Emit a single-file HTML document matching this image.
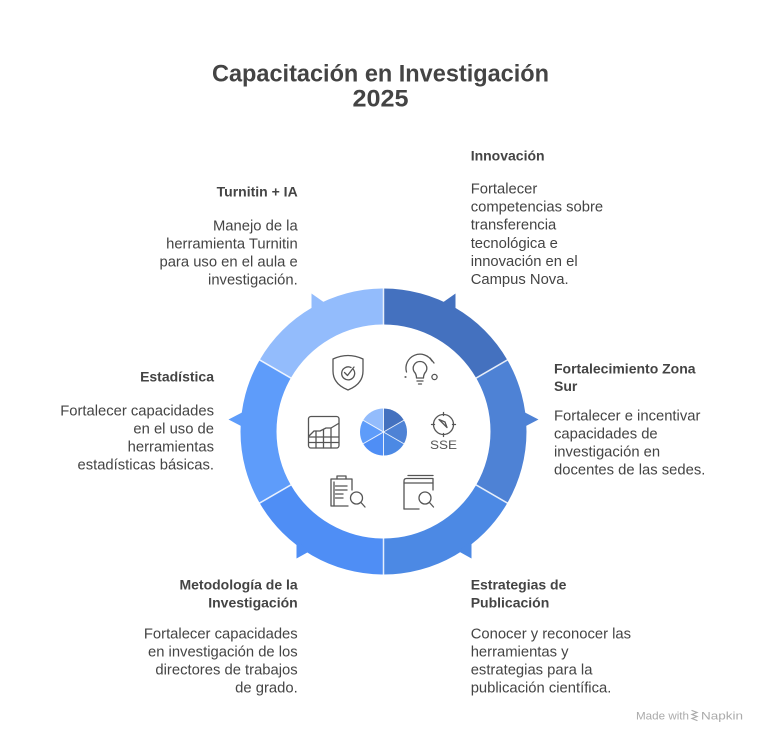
<!DOCTYPE html>
<html>
<head>
<meta charset="utf-8">
<style>
  html,body{margin:0;padding:0;background:#fff;}
  body{width:768px;height:744px;overflow:hidden;}
  svg{display:block;}
  .t{font-family:"Liberation Sans",Arial,sans-serif;}
  .ttl{font-size:24px;font-weight:bold;fill:#444;}
  .h{font-size:14px;font-weight:bold;fill:#444;}
  .b{font-size:14.8px;fill:#444;}
  .ft{font-size:11px;fill:#aaa;}
  .ic{fill:none;stroke:#555;stroke-width:1.3;stroke-linecap:round;stroke-linejoin:round;}
</style>
</head>
<body>
<svg width="768" height="744" viewBox="0 0 768 744" xmlns="http://www.w3.org/2000/svg">
  <!-- Title -->
  <text class="t ttl" x="380.5" y="81.5" text-anchor="middle" textLength="337" lengthAdjust="spacingAndGlyphs">Capacitación en Investigación</text>
  <text class="t ttl" x="380.5" y="106.5" text-anchor="middle" textLength="56" lengthAdjust="spacingAndGlyphs">2025</text>

  <!-- Ring segments -->
  <path d="M383.5,288.5 A143,143 0 0 1 507.34,360 L476.16,378 A107,107 0 0 0 383.5,324.5 Z" fill="#4471BF"/>
  <path d="M507.34,360 A143,143 0 0 1 507.34,503 L476.16,485 A107,107 0 0 0 476.16,378 Z" fill="#4E82D5"/>
  <path d="M507.34,503 A143,143 0 0 1 383.5,574.5 L383.5,538.5 A107,107 0 0 0 476.16,485 Z" fill="#4C89E4"/>
  <path d="M383.5,574.5 A143,143 0 0 1 259.66,503 L290.84,485 A107,107 0 0 0 383.5,538.5 Z" fill="#4F8EF5"/>
  <path d="M259.66,503 A143,143 0 0 1 259.66,360 L290.84,378 A107,107 0 0 0 290.84,485 Z" fill="#5E9CFA"/>
  <path d="M259.66,360 A143,143 0 0 1 383.5,288.5 L383.5,324.5 A107,107 0 0 0 290.84,378 Z" fill="#93BCFC"/>

  <!-- Barbs -->
  <polygon points="311.5,293.5 311.5,311 325,303" fill="#93BCFC"/>
  <polygon points="455.5,293.5 455.5,311 442,303" fill="#4471BF"/>
  <polygon points="228.5,419.5 243,412 243,427" fill="#5E9CFA"/>
  <polygon points="538.5,419.5 524,412 524,427" fill="#4E82D5"/>
  <polygon points="296.5,558.5 296.5,541 310,551" fill="#4F8EF5"/>
  <polygon points="471.5,558.5 471.5,541 458,551" fill="#4C89E4"/>

  <!-- Separators -->
  <g stroke="#fff" stroke-width="1.5" stroke-opacity="0.85">
    <line x1="383.5" y1="288" x2="383.5" y2="325"/>
    <line x1="507.8" y1="359.7" x2="475.7" y2="378.3"/>
    <line x1="507.8" y1="503.3" x2="475.7" y2="484.7"/>
    <line x1="383.5" y1="575" x2="383.5" y2="538"/>
    <line x1="259.2" y1="503.3" x2="291.3" y2="484.7"/>
    <line x1="259.2" y1="359.7" x2="291.3" y2="378.3"/>
  </g>

  <!-- Center pie -->
  <path d="M383.5,432 L383.5,408.5 A23.5,23.5 0 0 1 403.85,420.25 Z" fill="#4471BF"/>
  <path d="M383.5,432 L403.85,420.25 A23.5,23.5 0 0 1 403.85,443.75 Z" fill="#4E82D5"/>
  <path d="M383.5,432 L403.85,443.75 A23.5,23.5 0 0 1 383.5,455.5 Z" fill="#4C89E4"/>
  <path d="M383.5,432 L383.5,455.5 A23.5,23.5 0 0 1 363.15,443.75 Z" fill="#4F8EF5"/>
  <path d="M383.5,432 L363.15,443.75 A23.5,23.5 0 0 1 363.15,420.25 Z" fill="#5E9CFA"/>
  <path d="M383.5,432 L363.15,420.25 A23.5,23.5 0 0 1 383.5,408.5 Z" fill="#93BCFC"/>
  <g stroke="#fff" stroke-width="1" stroke-opacity="0.85">
    <line x1="383.5" y1="432" x2="383.5" y2="408"/>
    <line x1="383.5" y1="432" x2="404.3" y2="420"/>
    <line x1="383.5" y1="432" x2="404.3" y2="444"/>
    <line x1="383.5" y1="432" x2="383.5" y2="456"/>
    <line x1="383.5" y1="432" x2="362.7" y2="444"/>
    <line x1="383.5" y1="432" x2="362.7" y2="420"/>
  </g>

  <!-- Icons -->
  <!-- Shield with check -->
  <g class="ic">
    <path d="M333,359 Q348,352 363,359 L363,371 Q363,384 348,390 Q333,384 333,371 Z"/>
    <path d="M353,369 A6.5,6.5 0 1 1 351,367.5"/>
    <path d="M344.5,372.5 L347.5,375.5 L354,367"/>
  </g>
  <!-- Lightbulb with orbit -->
  <g class="ic">
    <path d="M416.5,378 Q416.5,374 414,371.5 A6.8,6.8 0 1 1 426,371.5 Q423.5,374 423.5,378 Z"/>
    <line x1="417" y1="381" x2="423" y2="381"/>
    <line x1="418.5" y1="384" x2="421.5" y2="384"/>
    <path d="M406.5,372 A14,14 0 0 1 432,361"/>
    <line x1="430" y1="358" x2="434" y2="363"/>
    <circle cx="434.5" cy="377" r="2.6"/>
    <circle cx="405.5" cy="377" r="0.4"/>
  </g>
  <!-- Chart grid -->
  <g class="ic">
    <rect x="308.5" y="416.5" width="30.5" height="31.5" rx="2.5"/>
    <path d="M309,436 L314,431 L320,431 L326,428 L331,428 L338.5,423.5"/>
    <line x1="309" y1="437" x2="338.5" y2="437"/>
    <line x1="309" y1="442.5" x2="338.5" y2="442.5"/>
    <line x1="316" y1="431" x2="316" y2="448"/>
    <line x1="323.5" y1="430" x2="323.5" y2="448"/>
    <line x1="331" y1="428" x2="331" y2="448"/>
  </g>
  <!-- Compass SSE -->
  <g class="ic">
    <circle cx="443.5" cy="424.5" r="10"/>
    <line x1="443.5" y1="412.5" x2="443.5" y2="415.5"/>
    <line x1="443.5" y1="433.5" x2="443.5" y2="436.5"/>
    <line x1="431.5" y1="424.5" x2="434.5" y2="424.5"/>
    <line x1="452.5" y1="424.5" x2="455.5" y2="424.5"/>
    <path d="M439,419.5 L447,427.5 L445,422 Z"/>
  </g>
  <text class="t" x="443.5" y="449" text-anchor="middle" font-size="12" fill="#555" textLength="27" lengthAdjust="spacingAndGlyphs">SSE</text>
  <!-- Clipboard with magnifier -->
  <g class="ic">
    <path d="M352,490 L352,479 L331,479 L331,506 L348,506"/>
    <path d="M337,479 L337,476 L346,476 L346,479"/>
    <line x1="335.5" y1="486" x2="347" y2="486"/>
    <line x1="335.5" y1="490" x2="347" y2="490"/>
    <line x1="335.5" y1="494" x2="343" y2="494"/>
    <line x1="335.5" y1="498" x2="343" y2="498"/>
    <path d="M334,506 L334,482"/>
    <circle cx="356.5" cy="498" r="6"/>
    <line x1="361" y1="502.5" x2="365" y2="507"/>
  </g>
  <!-- Book with magnifier -->
  <g class="ic">
    <line x1="408" y1="475.5" x2="433" y2="475.5"/>
    <path d="M404,509 L404,481 Q404,478.5 406.5,478.5 L433,478.5 L433,490"/>
    <line x1="404" y1="483" x2="433" y2="483"/>
    <path d="M404,509 L419,509"/>
    <circle cx="425" cy="498" r="6"/>
    <line x1="429.5" y1="502.5" x2="433.5" y2="507"/>
  </g>

  <!-- Turnitin + IA -->
  <text class="t h" x="297.7" y="196.5" text-anchor="end">Turnitin + IA</text>
  <text class="t b" x="297.7" y="230.5" text-anchor="end">Manejo de la</text>
  <text class="t b" x="297.7" y="248.5" text-anchor="end">herramienta Turnitin</text>
  <text class="t b" x="297.7" y="266.5" text-anchor="end">para uso en el aula e</text>
  <text class="t b" x="297.7" y="284.5" text-anchor="end">investigación.</text>

  <!-- Innovación -->
  <text class="t h" x="470.7" y="160.7">Innovación</text>
  <text class="t b" x="470.7" y="193.5">Fortalecer</text>
  <text class="t b" x="470.7" y="211.6">competencias sobre</text>
  <text class="t b" x="470.7" y="229.7">transferencia</text>
  <text class="t b" x="470.7" y="247.8">tecnológica e</text>
  <text class="t b" x="470.7" y="265.9">innovación en el</text>
  <text class="t b" x="470.7" y="284">Campus Nova.</text>

  <!-- Estadística -->
  <text class="t h" x="214" y="381.7" text-anchor="end">Estadística</text>
  <text class="t b" x="214" y="415.5" text-anchor="end">Fortalecer capacidades</text>
  <text class="t b" x="214" y="433.5" text-anchor="end">en el uso de</text>
  <text class="t b" x="214" y="451.5" text-anchor="end">herramientas</text>
  <text class="t b" x="214" y="469.5" text-anchor="end">estadísticas básicas.</text>

  <!-- Fortalecimiento Zona Sur -->
  <text class="t h" x="554" y="373.3">Fortalecimiento Zona</text>
  <text class="t h" x="554" y="391">Sur</text>
  <text class="t b" x="554" y="420.5">Fortalecer e incentivar</text>
  <text class="t b" x="554" y="438.5">capacidades de</text>
  <text class="t b" x="554" y="456.5">investigación en</text>
  <text class="t b" x="554" y="474.5">docentes de las sedes.</text>

  <!-- Metodología -->
  <text class="t h" x="297.7" y="589.5" text-anchor="end">Metodología de la</text>
  <text class="t h" x="297.7" y="607.5" text-anchor="end">Investigación</text>
  <text class="t b" x="297.7" y="638.5" text-anchor="end">Fortalecer capacidades</text>
  <text class="t b" x="297.7" y="656.5" text-anchor="end">en investigación de los</text>
  <text class="t b" x="297.7" y="674.5" text-anchor="end">directores de trabajos</text>
  <text class="t b" x="297.7" y="692.5" text-anchor="end">de grado.</text>

  <!-- Estrategias -->
  <text class="t h" x="470.7" y="589.5">Estrategias de</text>
  <text class="t h" x="470.7" y="607.5">Publicación</text>
  <text class="t b" x="470.7" y="638.5">Conocer y reconocer las</text>
  <text class="t b" x="470.7" y="656.5">herramientas y</text>
  <text class="t b" x="470.7" y="674.5">estrategias para la</text>
  <text class="t b" x="470.7" y="692.5">publicación científica.</text>

  <!-- Footer -->
  <text class="t ft" x="636" y="719.5" textLength="53" lengthAdjust="spacingAndGlyphs">Made with</text>
  <g stroke="#aaa" stroke-width="1.2" fill="none" stroke-linecap="round">
    <path d="M692,710.5 L697,712.5 L692,714.5 L697,716.5 L692,718.5 L697,720.5"/>
  </g>
  <text class="t ft" x="701" y="719.5" textLength="42" lengthAdjust="spacingAndGlyphs">Napkin</text>
</svg>
</body>
</html>
